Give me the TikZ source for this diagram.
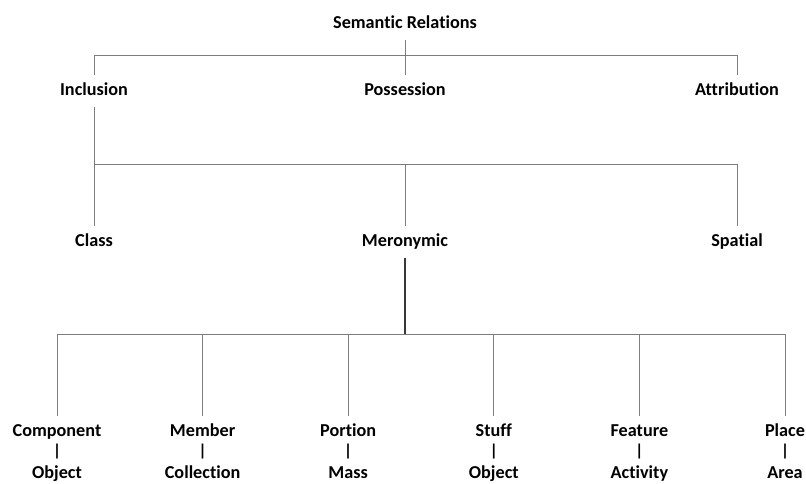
\documentclass[tikz,border=0pt]{standalone}
\usepackage{fontspec}
\setmainfont{Carlito}[Ligatures={NoCommon,NoRare,NoContextual}]
\newfontfamily\barfont{DejaVu Sans Bold}
\definecolor{linegray}{RGB}{125,125,125}
\definecolor{darkline}{RGB}{55,55,55}
\tikzset{
  lbl/.style={font=\fontsize{18.2}{21}\selectfont\bfseries, anchor=base, text height=12pt, text depth=4pt, inner ysep=8pt, inner xsep=0pt},
  barlbl/.style={font=\barfont\fontsize{15}{17}\selectfont, anchor=base, inner sep=0pt},
  conn/.style={draw=linegray, line width=0.9pt},
  strong/.style={draw=darkline, line width=1.6pt}
}
\begin{document}
\begin{tikzpicture}[x=1pt,y=-1pt]
\useasboundingbox (0,0) rectangle (806,483);
% level 0
\node[lbl] (sr) at (405,28) {Semantic Relations};
% level 1
\node[lbl] (inc) at (94,95) {Inclusion};
\node[lbl] (pos) at (405,95) {Possession};
\node[lbl] (att) at (737,95) {Attribution};
% level 2
\node[lbl] (cls) at (94,246) {Class};
\node[lbl] (mer) at (405,246) {Meronymic};
\node[lbl] (spa) at (737,246) {Spatial};
% level 3
\foreach \n/\x/\a/\b in {comp/57/Component/Object, memb/202.6/Member/Collection, port/348.2/Portion/Mass, stuf/493.8/Stuff/Object, feat/639.4/Feature/Activity, plac/785/Place/Area}{
  \node[lbl] (\n) at (\x,436) {\a};
  \node[barlbl] (\n bar) at (\x,455) {|};
  \node[lbl] (\n obj) at (\x,478) {\b};
}
\coordinate (j1) at (405,55);
\coordinate (j2) at (405,164);
\coordinate (j3) at (405,334);
% connectors level 0 -> 1
\draw[conn] (sr.south) -- (pos.north);
\draw[conn] (inc.north) -- (inc.north |- j1) -- (att.north |- j1) -- (att.north);
% level 1 -> 2
\draw[conn] (inc.south) -- (cls.north);
\draw[conn] (cls.north |- j2) -- (spa.north |- j2) -- (spa.north);
\draw[conn] (mer.north |- j2) -- (mer.north);
% level 2 -> 3
\draw[strong] (mer.south) -- (mer.south |- j3);
\draw[conn] (comp.north) -- (comp.north |- j3) -- (plac.north |- j3) -- (plac.north);
\foreach \n in {memb,port,stuf,feat}{
  \draw[conn] (\n.north |- j3) -- (\n.north);
}
\end{tikzpicture}
\end{document}
